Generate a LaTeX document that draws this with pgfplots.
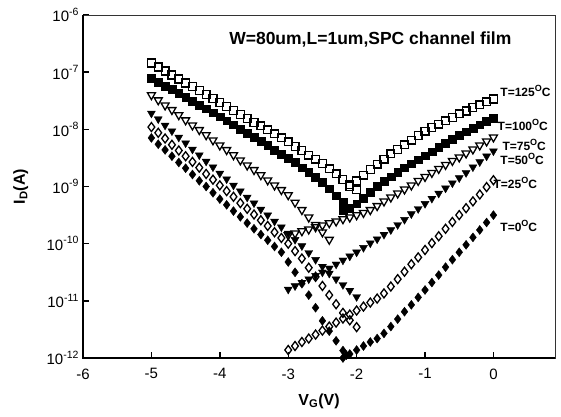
\documentclass[border=0pt]{standalone}
\usepackage{fontspec}
\setmainfont{Liberation Sans}
\usepackage{pgfplots}
\usepackage{pgfplotstable}
\pgfplotsset{compat=1.18}
\newcommand\sups[1]{\raisebox{0.45em}{\fontsize{10.5}{10.5}\selectfont #1}}
\newcommand\degO{\raisebox{0.42em}{\fontsize{9}{9}\selectfont O}}

% log10(I_D / A) versus V_G (V)
\pgfplotstableread{
v ly
-5.0 -6.84
-4.9 -6.91
-4.8 -6.98
-4.7 -7.05
-4.6 -7.12
-4.5 -7.19
-4.4 -7.25
-4.3 -7.32
-4.2 -7.39
-4.1 -7.46
-4.0 -7.53
-3.9 -7.60
-3.8 -7.67
-3.7 -7.74
-3.6 -7.81
-3.5 -7.88
-3.4 -7.94
-3.3 -8.01
-3.2 -8.08
-3.1 -8.15
-3.0 -8.22
-2.9 -8.30
-2.8 -8.37
-2.7 -8.45
-2.6 -8.52
-2.5 -8.60
-2.4 -8.69
-2.3 -8.78
-2.2 -8.88
-2.1 -8.97
-2.0 -9.06
}\tAL
\pgfplotstableread{
v ly
-2.1 -9.00
-2.0 -8.90
-1.9 -8.80
-1.8 -8.70
-1.7 -8.61
-1.6 -8.52
-1.5 -8.43
-1.4 -8.35
-1.3 -8.27
-1.2 -8.19
-1.1 -8.11
-1.0 -8.03
-0.9 -7.97
-0.8 -7.91
-0.7 -7.85
-0.6 -7.79
-0.5 -7.73
-0.4 -7.68
-0.3 -7.62
-0.2 -7.57
-0.1 -7.52
0.0 -7.47
}\tAR
\pgfplotstableread{
v ly
-5.0 -7.10
-4.9 -7.17
-4.8 -7.24
-4.7 -7.30
-4.6 -7.37
-4.5 -7.44
-4.4 -7.51
-4.3 -7.58
-4.2 -7.64
-4.1 -7.71
-4.0 -7.78
-3.9 -7.85
-3.8 -7.92
-3.7 -8.00
-3.6 -8.07
-3.5 -8.14
-3.4 -8.21
-3.3 -8.28
-3.2 -8.36
-3.1 -8.43
-3.0 -8.50
-2.9 -8.58
-2.8 -8.67
-2.7 -8.75
-2.6 -8.84
-2.5 -8.92
-2.4 -9.04
-2.3 -9.16
-2.2 -9.28
-2.1 -9.38
}\tBL
\pgfplotstableread{
v ly
-2.2 -9.42
-2.1 -9.38
-2.0 -9.30
-1.9 -9.20
-1.8 -9.10
-1.7 -9.00
-1.6 -8.91
-1.5 -8.83
-1.4 -8.75
-1.3 -8.67
-1.2 -8.60
-1.1 -8.53
-1.0 -8.46
-0.9 -8.39
-0.8 -8.31
-0.7 -8.24
-0.6 -8.17
-0.5 -8.10
-0.4 -8.04
-0.3 -7.98
-0.2 -7.92
-0.1 -7.86
0.0 -7.80
}\tBR
\pgfplotstableread{
v ly
-5.0 -7.40
-4.9 -7.49
-4.8 -7.58
-4.7 -7.66
-4.6 -7.75
-4.5 -7.84
-4.4 -7.93
-4.3 -8.01
-4.2 -8.10
-4.1 -8.19
-4.0 -8.28
-3.9 -8.36
-3.8 -8.45
-3.7 -8.54
-3.6 -8.63
-3.5 -8.71
-3.4 -8.80
-3.3 -8.89
-3.2 -8.98
-3.1 -9.06
-3.0 -9.15
-2.9 -9.28
-2.8 -9.41
-2.7 -9.54
-2.6 -9.67
-2.5 -9.80
-2.4 -9.93
}\tCL
\pgfplotstableread{
v ly
-3.0 -9.85
-2.9 -9.82
-2.8 -9.78
-2.7 -9.75
-2.6 -9.71
-2.5 -9.68
-2.4 -9.64
-2.3 -9.61
-2.2 -9.57
-2.1 -9.54
-2.0 -9.50
-1.9 -9.46
-1.8 -9.41
-1.7 -9.34
-1.6 -9.26
-1.5 -9.19
-1.4 -9.12
-1.3 -9.05
-1.2 -8.98
-1.1 -8.90
-1.0 -8.83
-0.9 -8.76
-0.8 -8.69
-0.7 -8.62
-0.6 -8.55
-0.5 -8.49
-0.4 -8.42
-0.3 -8.35
-0.2 -8.28
-0.1 -8.21
0.0 -8.14
}\tCR
\pgfplotstableread{
v ly
-5.0 -7.72
-4.9 -7.82
-4.8 -7.93
-4.7 -8.03
-4.6 -8.14
-4.5 -8.24
-4.4 -8.35
-4.3 -8.45
-4.2 -8.56
-4.1 -8.66
-4.0 -8.77
-3.9 -8.87
-3.8 -8.98
-3.7 -9.08
-3.6 -9.19
-3.5 -9.29
-3.4 -9.40
-3.3 -9.50
-3.2 -9.61
-3.1 -9.71
-3.0 -9.82
-2.9 -9.93
-2.8 -10.04
-2.7 -10.16
-2.6 -10.28
-2.5 -10.40
-2.4 -10.52
-2.3 -10.62
-2.2 -10.72
-2.1 -10.82
-2.0 -10.93
}\tDL
\pgfplotstableread{
v ly
-3.0 -10.80
-2.9 -10.74
-2.8 -10.68
-2.7 -10.62
-2.6 -10.56
-2.5 -10.50
-2.4 -10.43
-2.3 -10.36
-2.2 -10.29
-2.1 -10.22
-2.0 -10.15
-1.9 -10.07
-1.8 -9.99
-1.7 -9.92
-1.6 -9.84
-1.5 -9.76
-1.4 -9.67
-1.3 -9.58
-1.2 -9.48
-1.1 -9.39
-1.0 -9.30
-0.9 -9.21
-0.8 -9.12
-0.7 -9.03
-0.6 -8.94
-0.5 -8.85
-0.4 -8.76
-0.3 -8.66
-0.2 -8.57
-0.1 -8.47
0.0 -8.38
}\tDR
\pgfplotstableread{
v ly
-5.0 -7.96
-4.9 -8.06
-4.8 -8.16
-4.7 -8.27
-4.6 -8.37
-4.5 -8.47
-4.4 -8.57
-4.3 -8.67
-4.2 -8.78
-4.1 -8.88
-4.0 -8.98
-3.9 -9.08
-3.8 -9.18
-3.7 -9.29
-3.6 -9.39
-3.5 -9.49
-3.4 -9.59
-3.3 -9.69
-3.2 -9.80
-3.1 -9.90
-3.0 -10.00
-2.9 -10.13
-2.8 -10.26
-2.7 -10.42
-2.6 -10.58
-2.5 -10.74
-2.4 -10.90
-2.3 -11.06
-2.2 -11.21
-2.1 -11.34
-2.0 -11.46
}\tEL
\pgfplotstableread{
v ly
-3.0 -11.86
-2.9 -11.79
-2.8 -11.72
-2.7 -11.66
-2.6 -11.59
-2.5 -11.52
-2.4 -11.45
-2.3 -11.38
-2.2 -11.31
-2.1 -11.24
-2.0 -11.17
-1.9 -11.10
-1.8 -11.03
-1.7 -10.96
-1.6 -10.87
-1.5 -10.75
-1.4 -10.62
-1.3 -10.49
-1.2 -10.36
-1.1 -10.24
-1.0 -10.11
-0.9 -9.99
-0.8 -9.87
-0.7 -9.74
-0.6 -9.62
-0.5 -9.50
-0.4 -9.38
-0.3 -9.26
-0.2 -9.14
-0.1 -9.01
0.0 -8.89
}\tER
\pgfplotstableread{
v ly
-5.0 -8.15
-4.9 -8.26
-4.8 -8.36
-4.7 -8.47
-4.6 -8.58
-4.5 -8.68
-4.4 -8.79
-4.3 -8.90
-4.2 -9.00
-4.1 -9.11
-4.0 -9.22
-3.9 -9.32
-3.8 -9.43
-3.7 -9.53
-3.6 -9.64
-3.5 -9.74
-3.4 -9.84
-3.3 -9.94
-3.2 -10.05
-3.1 -10.15
-3.0 -10.32
-2.9 -10.50
-2.8 -10.70
-2.7 -10.90
-2.6 -11.12
-2.5 -11.35
-2.4 -11.53
-2.3 -11.70
-2.2 -11.87
-2.15 -11.95
}\tFL
\pgfplotstableread{
v ly
-2.2 -12.00
-2.1 -11.93
-2.0 -11.86
-1.9 -11.79
-1.8 -11.72
-1.7 -11.66
-1.6 -11.57
-1.5 -11.45
-1.4 -11.32
-1.3 -11.19
-1.2 -11.07
-1.1 -10.94
-1.0 -10.81
-0.9 -10.68
-0.8 -10.55
-0.7 -10.41
-0.6 -10.28
-0.5 -10.15
-0.4 -10.02
-0.3 -9.89
-0.2 -9.76
-0.1 -9.63
0.0 -9.50
}\tFR

\begin{document}
\begin{tikzpicture}[x=1pt,y=1pt]
\path (0,0) rectangle (561,416);
\begin{axis}[
  at={(83pt,58pt)}, anchor=south west,
  scale only axis, width=472pt, height=343pt,
  xmin=-6, xmax=0.9, ymin=-12, ymax=-6,
  clip=false,
  axis line style={line width=0.9pt, black!80},
  xtick={-6,-5,-4,-3,-2,-1,0},
  xticklabels={-6,-5,-4,-3,-2,-1,0},
  ytick={-12,-11,-10,-9,-8,-7,-6},
  yticklabels={10\sups{-12},10\sups{-11},10\sups{-10},10\sups{-9},10\sups{-8},10\sups{-7},10\sups{-6}},
  tick align=inside, xtick pos=bottom, ytick pos=left,
  major tick length=6pt,
  tick style={line width=1.4pt, black},
  ticklabel style={font=\fontsize{15}{15}\selectfont},
  xticklabel style={yshift=-7pt},
  yticklabel style={xshift=-1pt},
  xlabel={\textbf{V\textsubscript{G}(V)}},
  ylabel={\textbf{I\textsubscript{D}(A)}},
  label style={font=\fontsize{16}{16}\selectfont},
  xlabel style={at={(axis description cs:0.5,-0.125)}, anchor=center},
  ylabel style={at={(axis description cs:-0.132,0.5)}, anchor=center},
  every axis plot/.append style={only marks},
]
\draw[line width=1.8pt, black] (rel axis cs:0,1) -- (rel axis cs:0,0) -- (rel axis cs:1,0);
% T = 125 C : open squares
\addplot[mark=square, mark size=3.9pt, mark options={fill=white, line width=1.3pt, black}] table[x=v,y=ly] {\tAL};
\addplot[mark=square, mark size=3.9pt, mark options={fill=white, line width=1.3pt, black}] table[x=v,y=ly] {\tAR};
% T = 100 C : filled squares
\addplot[mark=square*, mark size=3.9pt, mark options={fill=black, black}] table[x=v,y=ly] {\tBL};
\addplot[mark=square*, mark size=3.9pt, mark options={fill=black, black}] table[x=v,y=ly] {\tBR};
% T = 75 C : open down triangles
\addplot[mark=triangle, mark size=4.6pt, mark options={fill=white, line width=1.3pt, black, rotate=180}] table[x=v,y=ly] {\tCL};
\addplot[mark=triangle, mark size=4.6pt, mark options={fill=white, line width=1.3pt, black, rotate=180}] table[x=v,y=ly] {\tCR};
% T = 50 C : filled down triangles
\addplot[mark=triangle*, mark size=4.6pt, mark options={fill=black, black, rotate=180}] table[x=v,y=ly] {\tDL};
\addplot[mark=triangle*, mark size=4.6pt, mark options={fill=black, black, rotate=180}] table[x=v,y=ly] {\tDR};
% T = 25 C : open diamonds
\addplot[mark=diamond, mark size=4.5pt, mark options={fill=white, line width=1.3pt, black}] table[x=v,y=ly] {\tEL};
\addplot[mark=diamond, mark size=4.5pt, mark options={fill=white, line width=1.3pt, black}] table[x=v,y=ly] {\tER};
% T = 0 C : filled diamonds
\addplot[mark=diamond*, mark size=4.5pt, mark options={fill=black, black}] table[x=v,y=ly] {\tFL};
\addplot[mark=diamond*, mark size=4.5pt, mark options={fill=black, black}] table[x=v,y=ly] {\tFR};

\node[font=\fontsize{17.5}{17.5}\selectfont\bfseries] at (axis cs:-1.80,-6.42) {W=80um,L=1um,SPC channel film};
\begin{scope}[every node/.style={anchor=west, inner sep=0pt, font=\fontsize{12}{12}\selectfont\bfseries}]
\node at (axis cs:0.10,-7.33) {T=125\degO C};
\node at (axis cs:0.06,-7.93) {T=100\degO C};
\node at (axis cs:0.13,-8.28) {T=75\degO C};
\node at (axis cs:0.10,-8.52) {T=50\degO C};
\node at (axis cs:0.00,-8.94) {T=25\degO C};
\node at (axis cs:0.10,-9.69) {T=0\degO C};
\end{scope}
\end{axis}
\end{tikzpicture}
\end{document}
